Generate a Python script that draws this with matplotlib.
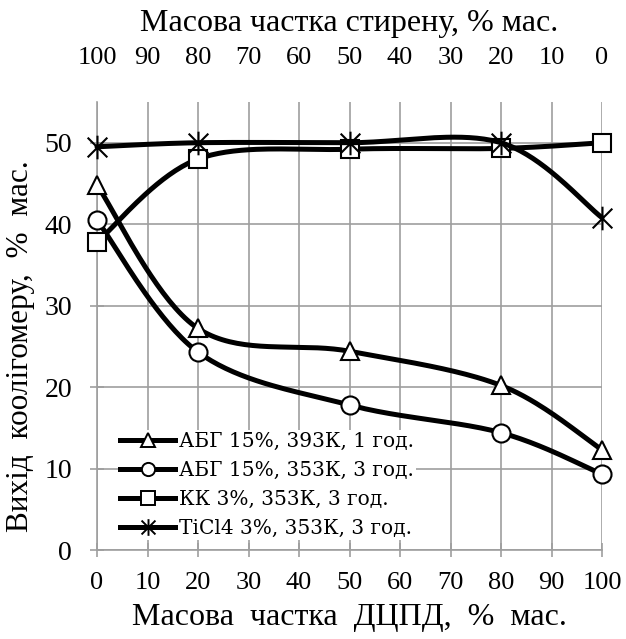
import numpy as np
import matplotlib
matplotlib.use("Agg")
import matplotlib.pyplot as plt
from matplotlib.path import Path
from matplotlib.lines import Line2D

# data
dcpd = [0, 20, 50, 80, 100]
abg_393 = [44.8, 27.2, 24.4, 20.2, 12.3]
abg_353 = [40.5, 24.3, 17.8, 14.4, 9.3]
kk_353 = [37.8, 48.0, 49.2, 49.3, 50.0]
ticl4_353 = [49.5, 50.0, 50.0, 50.0, 40.8]

labels = ["АБГ 15%, 393К, 1 год.", "АБГ 15%, 353К, 3 год.",
          "КК 3%, 353К, 3 год.", "TiCl4 3%, 353К, 3 год."]
styrene_ticks = [100, 90, 80, 70, 60, 50, 40, 30, 20, 10, 0]

star = Path([(-1, -1), (1, 1), (-1, 1), (1, -1), (0, -1.2), (0, 1.2)],
            [Path.MOVETO, Path.LINETO] * 3)
markers = ["^", "o", "s", star]
msizes = [13, 13, 13, 17]
leg_msizes = [9.5, 9.5, 9.5, 12]


def smooth(x, y, n=40):
    # excel-like smoothed line (catmull-rom as bezier)
    x = np.asarray(x, float)
    y = np.asarray(y, float)
    px = np.r_[x[0], x, x[-1]]
    py = np.r_[y[0], y, y[-1]]
    t = np.linspace(0, 1, n)[:, None]
    out = []
    for i in range(len(x) - 1):
        p0 = np.array([px[i], py[i]])
        p1 = np.array([px[i + 1], py[i + 1]])
        p2 = np.array([px[i + 2], py[i + 2]])
        p3 = np.array([px[i + 3], py[i + 3]])
        c1 = p1 + (p2 - p0) / 6
        c2 = p2 - (p3 - p1) / 6
        seg = ((1 - t) ** 3 * p1 + 3 * (1 - t) ** 2 * t * c1
               + 3 * (1 - t) * t ** 2 * c2 + t ** 3 * p2)
        out.append(seg)
    out = np.vstack(out)
    return out[:, 0], out[:, 1]


serif = "Liberation Serif"
fig = plt.figure(figsize=(6.26, 6.39), dpi=100)
ax = fig.add_axes([97 / 626, 1 - 550 / 639, 505 / 626, 448 / 639])

series = [abg_393, abg_353, kk_353, ticl4_353]
handles = []
for i, (vals, m) in enumerate(zip(series, markers)):
    xs, ys = smooth(dcpd, vals)
    ax.plot(xs, ys, color="black", lw=3.6, solid_capstyle="round",
            zorder=3 + 2 * i, clip_on=False)
    ax.plot(dcpd, vals, ls="none", marker=m, ms=msizes[i], mfc="white",
            mec="black", mew=1.5, zorder=4 + 2 * i, clip_on=False)
    handles.append(Line2D([], [], color="black", lw=3.6, marker=m,
                          ms=leg_msizes[i], mfc="white", mec="black",
                          mew=1.4))

ax.set_xlim(0, 100)
ax.set_ylim(0, 55)
ax.set_xticks(range(0, 101, 10))
ax.set_yticks(range(0, 51, 10))
ax.grid(True, color="#9e9e9e", lw=1.2)
ax.set_axisbelow(True)
for s in ["top", "right"]:
    ax.spines[s].set_visible(False)
for s in ["left", "bottom"]:
    ax.spines[s].set_color("#9e9e9e")
    ax.spines[s].set_linewidth(1.2)
ax.tick_params(colors="#9e9e9e", direction="inout", length=10, width=1.2,
               labelcolor="black")
ax.tick_params(axis="x", labelsize=19, pad=11)
ax.tick_params(axis="y", labelsize=20, pad=13)
for lab in ax.get_xticklabels() + ax.get_yticklabels():
    lab.set_family(serif)

ax.set_xlabel("Масова  частка  ДЦПД,  %  мас.", family=serif, fontsize=23,
              labelpad=6)
ax.set_ylabel("Вихід  коолігомеру,  %  мас.", family=serif, fontsize=22.5,
              labelpad=7)
ax.yaxis.label.set_y(0.455)

top = ax.twiny()
top.set_xlim(0, 100)
top.set_xticks(range(0, 101, 10))
top.set_xticklabels([str(v) for v in styrene_ticks])
top.tick_params(length=0, labelsize=19, pad=24)
for lab in top.get_xticklabels():
    lab.set_family(serif)
for s in top.spines.values():
    s.set_visible(False)
top.set_xlabel("Масова частка стирену, % мас.", family=serif, fontsize=23,
               labelpad=11)

leg = ax.legend(handles, labels, loc="upper left",
                bbox_to_anchor=(118 / 626, 1 - 430 / 639),
                bbox_transform=fig.transFigure, frameon=True,
                facecolor="white", edgecolor="none", framealpha=1,
                fancybox=False, borderpad=0.1, borderaxespad=0,
                handlelength=2.75, handletextpad=0.2, labelspacing=0.5,
                prop={"family": "DejaVu Serif", "size": 14.5})
leg.set_zorder(20)

fig.savefig("out.png", dpi=100)
